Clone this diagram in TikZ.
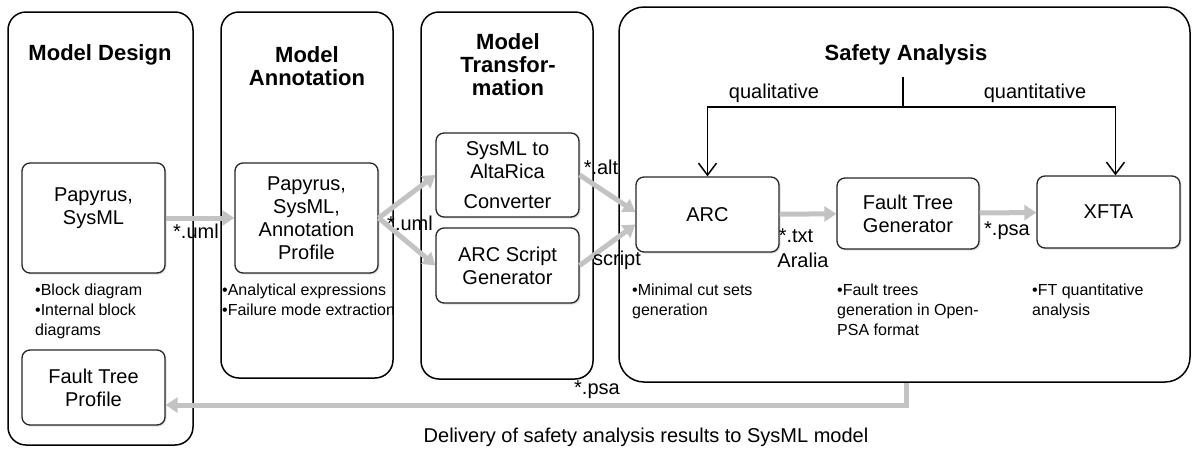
\documentclass[tikz,border=0pt]{standalone}
\usepackage{fontspec}
\setmainfont{Liberation Sans}
\usetikzlibrary{arrows.meta,shadows}
\newcommand{\titlesize}{\fontsize{22}{23}\selectfont\bfseries}
\newcommand{\boxsize}{\fontsize{20}{23}\selectfont}
\newcommand{\notesize}{\fontsize{16}{20}\selectfont}
\begin{document}
\begin{tikzpicture}[x=1pt, y=-1pt,
    panel/.style={draw, line width=1.5pt, rounded corners=18pt},
    unit/.style={draw=black!85, fill=white, line width=1.3pt, rounded corners=8pt, align=center, font=\boxsize, inner sep=0pt,
        drop shadow={opacity=0.25, shadow xshift=1.5pt, shadow yshift=-1.5pt}},
    title/.style={align=center, font=\titlesize},
    note/.style={anchor=north west, align=left, font=\notesize, inner sep=0pt},
    tag/.style={font=\boxsize, inner sep=0pt},
    flow/.style={draw=flowgray, line width=5pt, -{Triangle[length=12pt,width=15pt]}},
    choice/.style={line width=1.5pt, -{Straight Barb[length=12pt,width=18pt]}}]
            \definecolor{flowgray}{HTML}{C3C3C3}
            \useasboundingbox (0,0) rectangle (1192,448);
            \node[panel, minimum width=185pt, minimum height=433pt] (design) at (100.5,228.5) {};
            \node[panel, minimum width=172pt, minimum height=366pt] (annotation) at (307,195) {};
            \node[panel, minimum width=172pt, minimum height=367pt] (transformation) at (507,195.5) {};
            \node[panel, rounded corners=25pt, minimum width=571pt, minimum height=375pt] (safety) at (904.5,194.5) {};
            \node[title] (designtitle) at (100,55) {Model Design};
            \node[title] (annotationtitle) at (307,66) {Model\\Annotation};
            \node[title] (transformationtitle) at (508,65) {Model\\Transfor-\\mation};
            \node[title] (safetytitle) at (906,55) {Safety Analysis};
            \node[unit, minimum width=143pt, minimum height=110pt] (papyrus) at (93.5,218) {Papyrus,\\SysML\\~};
            \node[unit, minimum width=143pt, minimum height=75pt] (ftprofile) at (93.5,387.5) {Fault Tree\\Profile};
            \node[unit, minimum width=143pt, minimum height=110pt] (annot) at (306.5,218) {Papyrus,\\SysML,\\Annotation\\Profile};
            \node[unit, minimum width=143pt, minimum height=84pt] (conv) at (507.5,175) {SysML to\\AltaRica\\[7pt]Converter};
            \node[unit, minimum width=143pt, minimum height=75pt] (gen) at (507.5,265.5) {ARC Script\\Generator};
            \node[unit, minimum width=143pt, minimum height=75pt] (arc) at (707.5,214.5) {ARC};
            \node[unit, minimum width=142pt, minimum height=71pt] (ftg) at (908,213.5) {Fault Tree\\Generator};
            \node[unit, minimum width=143pt, minimum height=72pt] (xfta) at (1108.5,212) {XFTA};
            \node[note] (designnote) at (35,284) {\textbullet Block diagram\\\textbullet Internal block\\diagrams};
            \node[note] (annotnote) at (222,284) {\textbullet Analytical expressions\\\textbullet Failure mode extraction};
            \node[note] (arcnote) at (632,284) {\textbullet Minimal cut sets\\generation};
            \node[note] (ftgnote) at (837,284) {\textbullet Fault trees\\generation in Open-\\PSA format};
            \node[note] (xftanote) at (1032,284) {\textbullet FT quantitative\\analysis};
            \draw[flow] (papyrus) -- (annot);
            \draw[flow] (annot.east) -- (conv.west);
            \draw[flow] (annot.east) -- (gen.west);
            \draw[flow] (conv.east) -- ([yshift=2.5pt]arc.west);
            \draw[flow] (gen.east) -- ([yshift=-10pt]arc.west);
            \draw[flow] (arc) -- (ftg);
            \draw[flow] (ftg) -- (xfta);
            \coordinate (split) at (903,77);
            \coordinate (fork) at (903,107);
            \draw[line width=1.5pt] (split) -- (fork);
            \draw[choice] (fork) -| (arc.north);
            \draw[choice] (fork) -| ([xshift=7pt]xfta.north);
            \coordinate (back) at (906,405);
            \draw[flow] (safety.south -| back) -- (back) -- (back -| ftprofile.east);
            \node[tag] (umlone) at (196,231) {*.uml};
            \node[tag] (umltwo) at (410,223) {*.uml};
            \node[tag] (alt) at (601,167) {*.alt};
            \node[tag] (script) at (617,260) {script};
            \node[tag] (txt) at (796,236) {*.txt};
            \node[tag] (aralia) at (803,260) {Aralia};
            \node[tag] (psaone) at (1007,231) {*.psa};
            \node[tag] (psatwo) at (597,390) {*.psa};
            \node[tag] (qual) at (774,93) {qualitative};
            \node[tag] (quant) at (1035,93) {quantitative};
            \node[tag] (delivery) at (646,437) {Delivery of safety analysis results to SysML model};
        \end{tikzpicture}
\end{document}
